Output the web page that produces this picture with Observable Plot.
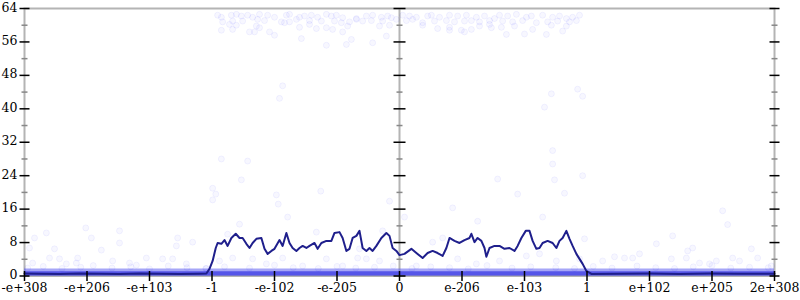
<!DOCTYPE html>
<html><head><meta charset="utf-8">
<script src="https://cdn.jsdelivr.net/npm/d3@7"></script>
<script src="https://cdn.jsdelivr.net/npm/@observablehq/plot@0.6"></script>
<style>body{margin:0;background:#fff} svg{display:block}</style>
</head><body><div id="chart"></div><script>
// x axis: ordinal position of floats, labelled at 13 evenly spaced positions
const xTickPos = [-6,-5,-4,-3,-2,-1,0,1,2,3,4,5,6];
const xTickLabels = ["-e+308","-e+206","-e+103","-1","-e-102","-e-205","0","e-206","e-103","1","e+102","e+205","2e+308"];
const yMajor = [0,8,16,24,32,40,48,56,64];
const yMinor = [4,12,20,28,36,44,52,60];
const xOrigin = 0;

// moving-average line
const lineU = [-6,-5.76,-5.44,-5.12,-4.8,-4.48,-4.16,-3.84,-3.52,-3.2,-3.09,-3.04,-2.99,-2.94,-2.91,-2.85,-2.8,-2.75,-2.69,-2.62,-2.56,-2.51,-2.45,-2.4,-2.35,-2.29,-2.21,-2.16,-2.11,-2.05,-2.0,-1.92,-1.87,-1.81,-1.76,-1.71,-1.65,-1.6,-1.55,-1.49,-1.44,-1.36,-1.31,-1.25,-1.17,-1.09,-1.04,-0.96,-0.91,-0.85,-0.8,-0.75,-0.69,-0.64,-0.59,-0.53,-0.48,-0.43,-0.37,-0.29,-0.21,-0.16,-0.11,-0.05,0,0.08,0.19,0.27,0.37,0.45,0.53,0.61,0.69,0.75,0.8,0.88,0.96,1.04,1.12,1.15,1.2,1.25,1.31,1.36,1.39,1.44,1.52,1.6,1.68,1.76,1.84,1.89,1.95,2.02,2.08,2.13,2.19,2.24,2.29,2.37,2.45,2.51,2.56,2.61,2.67,2.72,2.77,2.83,2.88,2.93,2.99,3.07,3.52,4.0,4.48,4.96,5.44,6.0];
const lineV = [0.6,0.55,0.5,0.6,0.55,0.5,0.6,0.55,0.5,0.55,0.6,1.7,3.6,6.7,7.9,7.7,8.6,7.2,9.1,10.1,9.1,9.1,7.7,6.7,7.9,8.9,9.1,6.5,5.3,6.0,6.5,8.6,7.2,10.3,7.9,6.7,6.0,6.7,7.2,6.7,7.2,7.9,6.5,7.9,8.4,8.4,10.3,10.5,9.1,6.0,6.5,9.1,9.6,10.8,6.7,6.0,6.7,6.0,7.2,9.1,10.3,9.6,6.7,6.0,5.0,5.3,6.5,5.5,4.3,5.5,6.0,5.5,4.8,6.7,9.1,8.4,7.9,8.6,9.1,10.1,8.1,9.1,8.4,6.7,4.6,6.7,7.2,7.2,6.5,6.7,6.0,7.2,9.1,10.8,10.8,8.4,6.5,6.7,7.9,8.4,7.9,6.7,8.4,9.1,10.8,8.9,7.2,5.3,4.1,2.9,1.2,0.5,0.55,0.6,0.5,0.6,0.55,0.55];

// dense band of samples near zero
const bandU = [-6, 6];
const bandOuter = [1.7, 1.7];
const bandCore = [1.0, 1.0];

// samples near the top (large errors)
const topU = [-2.91,-2.85,-2.69,-2.61,-2.53,-2.43,-2.35,-2.24,-2.11,-2.0,-1.81,-1.76,-1.6,-1.52,-1.41,-1.31,-1.17,-1.09,-1.01,-0.91,-0.69,-0.53,-0.43,-0.29,-0.19,-0.13,
 -2.83,-2.67,-2.51,-2.27,-2.16,-1.89,-1.76,-1.65,-1.44,-1.25,-1.04,-0.93,-0.8,-0.69,-0.59,-0.45,-0.27,-0.16,-0.05,
 -2.72,-2.61,-2.29,-2.4,-2.32,-2.08,-2.0,-1.6,-1.57,-1.33,-1.17,-1.07,-0.91,-0.83,-0.32,-0.21,-2.85,-2.67,-1.17,-0.85,-0.43,-0.77,-2.24,-1.84,-1.44,
 0.05,0.16,0.27,0.45,0.51,0.64,0.8,0.93,1.07,1.23,1.36,1.52,1.6,1.73,1.87,2.03,2.11,2.29,2.45,2.56,2.67,2.77,2.88,
 0.11,0.21,0.37,0.56,0.75,0.88,1.04,1.15,1.28,1.44,1.65,1.81,1.97,2.19,2.37,2.53,2.72,2.83,
 0.37,0.61,0.8,0.99,1.04,1.15,1.28,1.47,1.63,1.71,1.84,2.0,2.13,2.35,2.43,2.61,2.67,0.8,1.44];
const topV = [62.4,61.9,62.4,62.6,62.2,62.4,61.9,62.6,62.4,61.9,62.4,62.6,61.9,62.2,62.4,61.9,62.6,62.2,62.4,61.8,61.6,62.2,62.4,61.9,62.2,61.8,
 60.8,61.0,61.0,61.4,61.1,60.8,60.8,61.4,61.1,61.0,61.0,60.6,60.8,61.4,61.0,61.1,61.0,60.0,61.4,
 60.2,60.0,59.8,58.4,58.4,58.4,57.6,59.5,56.8,59.2,59.4,59.0,58.4,59.8,59.8,57.4,58.8,59.0,55.2,55.4,55.8,56.6,59.4,60.6,60.2,
 62.4,62.2,61.9,62.2,62.4,61.9,62.4,62.2,62.4,61.9,62.2,61.6,62.4,62.2,62.6,61.9,62.2,62.4,61.9,62.2,61.6,61.9,62.4,
 61.1,61.4,60.6,61.0,61.1,60.8,61.0,61.1,60.8,61.1,61.0,60.8,61.1,60.6,60.8,61.0,60.8,61.1,
 60.0,59.2,59.5,58.8,58.4,59.0,59.8,59.4,59.5,57.8,59.8,57.9,59.0,57.8,60.0,58.6,59.8,58.8,60.2];

// scattered samples in between
const midU = [-5.65,-5.84,-5.92,-5.52,-5.02,-4.93,-5.15,-4.77,-4.48,-4.48,-4.32,-4.05,-3.79,-3.63,-3.55,-3.57,-3.31,-3.41,-5.6,-5.44,-5.87,-5.33,-5.17,-4.59,-4.21,
 5.17,5.25,4.37,4.11,4.61,4.69,5.63,3.84,3.73,3.6,3.44,4.35,4.59,4.8,5.07,5.33,5.44,5.73,5.95,3.25,4.96,
 -2.85,-2.43,-2.53,-2.99,-2.94,-2.99,-1.97,-1.94,-1.26,-1.79,-2.56,-1.33,-2.75,-0.16,-0.27,-2.67,-2.35,-1.87,-1.55,-1.17,-0.91,-0.67,-0.53,-0.32,-3.09,-2.13,-2.88,-0.64,
 2.45,2.93,2.48,1.57,1.89,2.64,0.85,2.29,1.25,0.08,0.53,0.69,2.96,2.03,1.6,0.93,0.27,2.24,2.51,2.88,1.23,2.45,
 -1.87,-1.92,2.32,2.43,2.93,2.85];
const midV = [10.3,9.1,6.7,6.5,11.5,9.1,4.3,6.2,10.8,7.9,3.1,4.3,4.1,4.1,9.1,7.2,8.1,2.9,4.3,4.1,3.1,2.9,3.1,3.6,2.6,
 15.6,12.3,9.6,7.7,6.0,6.7,6.5,5.3,4.3,4.3,4.6,4.1,4.3,3.1,3.6,4.3,3.6,4.3,2.4,3.6,2.9,
 28,27.5,23,21,19.6,18.2,19.4,17.2,20.3,14.1,12.4,10.5,10,17.9,10.8,4.3,4.1,4.3,2.4,4.1,2.4,4.3,4.1,3.6,1.8,2.9,3.6,6.5,
 26.8,24,23,23.2,19.6,19.8,16.3,14.1,13.1,14.1,8.1,9.1,8.9,4.8,3.6,4.1,2.4,5.3,3.6,4.1,2.9,30,
 45.5,42.5,40.4,43.6,43,44.7];

// samples just above the dense band
const lowU = [-5.95,-5.7,-5.4,-5.1,-4.9,-4.6,-4.3,-4.0,-3.7,-3.4,-3.1,-2.8,-2.4,-2.0,-1.7,-1.3,-1.0,-0.7,-0.4,-0.1,0.2,0.5,0.8,1.1,1.4,1.8,2.1,2.5,2.8,3.1,3.4,3.8,4.1,4.4,4.7,5.0,5.3,5.6,5.9];
const lowV = [1.9,2.3,1.8,2.1,2.5,1.9,2.2,1.7,2.4,2.0,1.8,2.2,1.9,2.6,2.0,1.8,2.3,1.9,2.1,2.4,1.8,2.2,2.0,1.7,2.5,1.9,2.2,2.0,1.8,2.3,1.9,2.4,2.0,1.8,2.2,2.5,1.9,2.1,2.0];

const linePts = lineU.map((u, i) => ({u, v: lineV[i]}));
const bandPts = bandU.map((u, i) => ({u, outer: bandOuter[i], core: bandCore[i]}));
const topPts = topU.map((u, i) => ({u, v: topV[i]}));
const midPts = midU.map((u, i) => ({u, v: midV[i]}));
const lowPts = lowU.map((u, i) => ({u, v: lowV[i]}));

const hTick = {draw(ctx, size) { const r = Math.sqrt(size / Math.PI); ctx.moveTo(-r, 0); ctx.lineTo(r, 0); }};
const vTick = {draw(ctx, size) { const r = Math.sqrt(size / Math.PI); ctx.moveTo(0, -r); ctx.lineTo(0, r); }};

const dotStyle = {x: "u", y: "v", r: 3, fill: "blue", fillOpacity: 0.03, stroke: "blue", strokeOpacity: 0.05, strokeWidth: 1};

const chart = Plot.plot({
  width: 800, height: 300,
  marginLeft: 24, marginRight: 26, marginTop: 8, marginBottom: 24.5,
  style: {fontFamily: "DejaVu Serif", fontSize: "12.5px", background: "white", color: "black"},
  x: {domain: [-6, 6], axis: null},
  y: {domain: [0, 64], axis: null},
  marks: [
    Plot.frame({stroke: "#b4b4b4", strokeWidth: 2}),
    Plot.ruleX([xOrigin], {stroke: "#b4b4b4", strokeWidth: 2}),
    Plot.areaY(bandPts, {x: "u", y1: 0, y2: "outer", fill: "#5c5cf0", fillOpacity: 0.55}),
    Plot.areaY(bandPts, {x: "u", y1: 0, y2: "core", fill: "#2a2ae0", fillOpacity: 0.65}),
    Plot.dot(lowPts, dotStyle),
    Plot.dot(midPts, dotStyle),
    Plot.dot(topPts, dotStyle),
    Plot.line(linePts, {x: "u", y: "v", stroke: "#1f1f8c", strokeWidth: 2}),
    Plot.dot(yMajor, {y: d => d, frameAnchor: "left", symbol: hTick, r: 5, stroke: "black", fill: "none"}),
    Plot.dot(yMinor, {y: d => d, frameAnchor: "left", symbol: hTick, r: 3, stroke: "#888", fill: "none"}),
    Plot.dot(yMajor, {y: d => d, frameAnchor: "right", symbol: hTick, r: 5, stroke: "black", fill: "none"}),
    Plot.dot(yMinor, {y: d => d, frameAnchor: "right", symbol: hTick, r: 3, stroke: "#888", fill: "none"}),
    Plot.dot(yMajor, {y: d => d, x: () => xOrigin, symbol: hTick, r: 6, stroke: "black", fill: "none"}),
    Plot.dot(yMinor, {y: d => d, x: () => xOrigin, symbol: hTick, r: 3, stroke: "#888", fill: "none"}),
    Plot.dot(xTickPos, {x: d => d, frameAnchor: "bottom", symbol: vTick, r: 5, stroke: "black", fill: "none"}),
    Plot.text(yMajor, {y: d => d, frameAnchor: "left", dx: -7, dy: -1, textAnchor: "end", text: d => String(d), fill: "black"}),
    Plot.text(xTickPos, {x: d => d, frameAnchor: "bottom", dy: 16, text: (d, i) => xTickLabels[i], fill: "black"})
  ]
});
document.getElementById("chart").appendChild(chart);
</script></body></html>
